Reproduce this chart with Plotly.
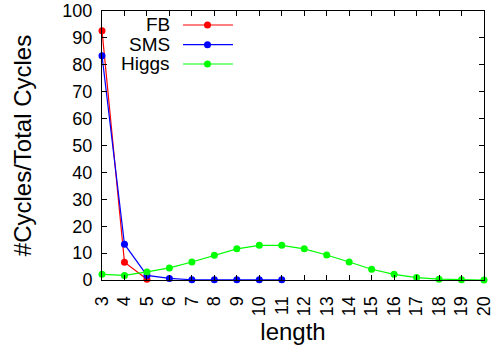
import plotly.graph_objects as go

fb_x = [3, 4, 5]
fb_y = [92.7, 6.6, 0.3]
sms_x = [3, 4, 5, 6, 7, 8, 9, 10, 11]
sms_y = [83.4, 13.3, 1.7, 0.6, 0.1, 0.1, 0.05, 0.05, 0.05]
higgs_x = list(range(3, 21))
higgs_y = [2.1, 1.7, 3.0, 4.5, 6.7, 9.2, 11.6, 12.9, 12.9, 11.6, 9.3, 6.7, 4.0, 2.1, 0.9, 0.3, 0.1, 0.0]
x_ticks = list(range(3, 21))
y_ticks = list(range(0, 101, 10))

series = [
    ("FB", fb_x, fb_y, "#ff0000"),
    ("SMS", sms_x, sms_y, "#0000ff"),
    ("Higgs", higgs_x, higgs_y, "#00ff00"),
]

FONT = "Liberation Sans, Arial, sans-serif"
W, H = 497, 349
L, R, T, B = 102, 13, 11, 69
pw, ph = W - L - R, H - T - B

fig = go.Figure()
for name, xs, ys, col in series:
    fig.add_trace(go.Scatter(
        x=xs, y=ys, mode="lines+markers", name=name,
        line=dict(color=col, width=1.2),
        marker=dict(color=col, size=7),
        cliponaxis=False, showlegend=False,
    ))

# manual gnuplot-style legend (text right, sample on right)
row_py = [25, 44.7, 64]
for (name, xs, ys, col), py in zip(series, row_py):
    yp = (H - B - py) / ph
    fig.add_annotation(xref="paper", yref="paper", x=(172 - L) / pw, y=yp,
                       text=name, showarrow=False, xanchor="right", yanchor="middle",
                       font=dict(family=FONT, size=19, color="black"))
    fig.add_shape(type="line", xref="paper", yref="paper",
                  x0=(183 - L) / pw, x1=(233 - L) / pw, y0=yp, y1=yp,
                  line=dict(color=col, width=1.2))
    fig.add_trace(go.Scatter(x=[(207.5 - L) / pw], y=[yp], xaxis="x2", yaxis="y2",
                             mode="markers", marker=dict(color=col, size=7),
                             showlegend=False, hoverinfo="skip", cliponaxis=False))

fig.update_layout(
    width=W, height=H,
    margin=dict(l=L, r=R, t=T, b=B, autoexpand=False),
    paper_bgcolor="white", plot_bgcolor="white",
    font=dict(family=FONT, size=18, color="black"),
    xaxis=dict(range=[3, 20], tickvals=x_ticks, ticktext=[str(v) for v in x_ticks],
               tickangle=-90, ticks="inside", ticklen=5, tickwidth=1, tickcolor="black",
               ticklabelstandoff=8,
               showline=True, linecolor="black", linewidth=1, mirror="ticks",
               showgrid=False, zeroline=False, automargin=False,
               title=dict(text="length", font=dict(size=24), standoff=7)),
    yaxis=dict(range=[0, 100], tickvals=y_ticks, ticks="inside", ticklen=5, tickwidth=1,
               tickcolor="black", ticklabelstandoff=5,
               showline=True, linecolor="black", linewidth=1,
               mirror="ticks", showgrid=False, zeroline=False, automargin=False,
               title=dict(text="#Cycles/Total Cycles", font=dict(size=24), standoff=23)),
    xaxis2=dict(range=[0, 1], overlaying="x", visible=False, domain=[0, 1]),
    yaxis2=dict(range=[0, 1], overlaying="y", visible=False),
)

fig.write_html("out.html", config={"displayModeBar": False},
               post_script="document.body.style.margin='0';")
